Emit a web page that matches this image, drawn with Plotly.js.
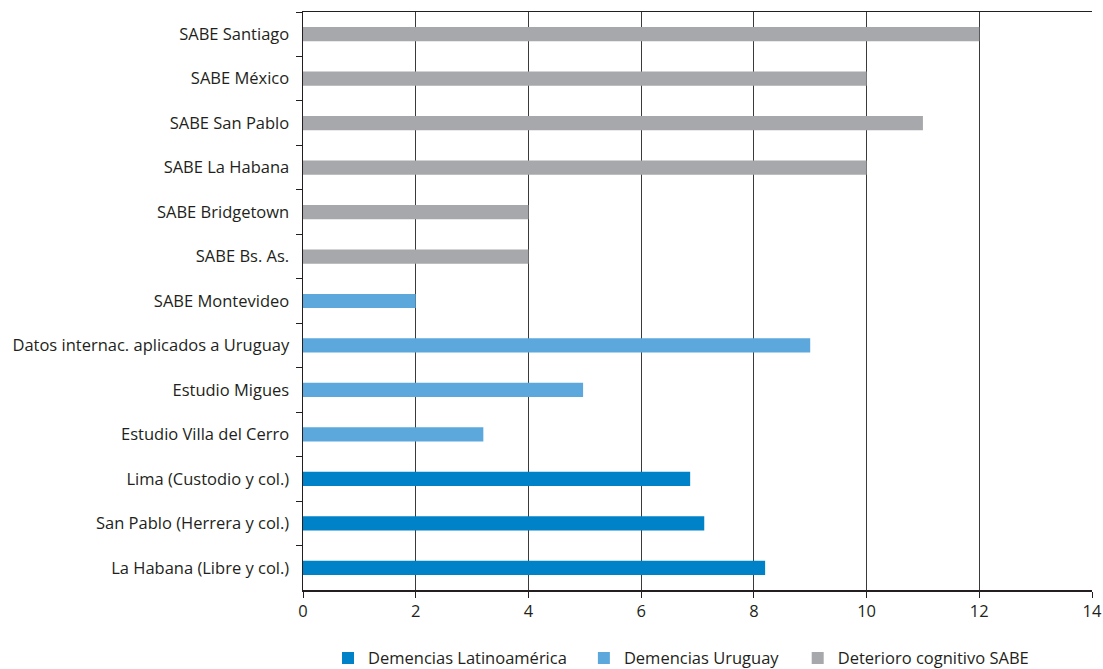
<!DOCTYPE html>
<html>
<head>
<meta charset="utf-8">
<script src="https://cdn.plot.ly/plotly-3.0.1.min.js"></script>
<style>html,body{margin:0;padding:0;background:#fff;}#chart{width:1103px;height:669px;}</style>
</head>
<body>
<div id="chart"></div>
<script>
// categories, top to bottom
const categories = [
  "SABE Santiago", "SABE México", "SABE San Pablo", "SABE La Habana",
  "SABE Bridgetown", "SABE Bs. As.", "SABE Montevideo",
  "Datos internac. aplicados a Uruguay", "Estudio Migues", "Estudio Villa del Cerro",
  "Lima (Custodio y col.)", "San Pablo (Herrera y col.)", "La Habana (Libre y col.)"
];

const latamCats = ["Lima (Custodio y col.)", "San Pablo (Herrera y col.)", "La Habana (Libre y col.)"];
const latamVals = [6.87, 7.12, 8.2];

const uyCats = ["SABE Montevideo", "Datos internac. aplicados a Uruguay", "Estudio Migues", "Estudio Villa del Cerro"];
const uyVals = [2, 9, 4.97, 3.2];

const sabeCats = ["SABE Santiago", "SABE México", "SABE San Pablo", "SABE La Habana", "SABE Bridgetown", "SABE Bs. As."];
const sabeVals = [12, 10, 11, 10, 4, 4];

const seriesNames = ["Demencias Latinoamérica", "Demencias Uruguay", "Deterioro cognitivo SABE"];
const xTicks = [0, 2, 4, 6, 8, 10, 12, 14];

const colors = ["#0082c8", "#5ca8dc", "#a7a8ab"];
const font = "Open Sans, Liberation Sans, sans-serif";
const ink = "#231f20";
const fs = 16.5;

function bar(cats, vals, i, legendId) {
  return {
    type: "bar", orientation: "h", x: vals, y: cats, name: seriesNames[i],
    width: 0.32, marker: {color: colors[i], line: {width: 0}},
    legend: legendId, hoverinfo: "x+y"
  };
}

const data = [
  bar(latamCats, latamVals, 0, "legend"),
  bar(uyCats, uyVals, 1, "legend2"),
  bar(sabeCats, sabeVals, 2, "legend3")
];

const legBase = {orientation: "h", yanchor: "middle", y: -0.118, xanchor: "left",
  font: {family: font, size: fs, color: ink}, bgcolor: "rgba(0,0,0,0)", borderwidth: 0,
  itemwidth: 30};

const layout = {
  width: 1103, height: 669,
  margin: {l: 303, r: 11, t: 12, b: 79, pad: 0, autoexpand: false},
  paper_bgcolor: "#fff", plot_bgcolor: "#fff",
  barmode: "overlay",
  font: {family: font, size: fs, color: ink},
  xaxis: {
    range: [0, 14], tickvals: xTicks, ticktext: xTicks.map(String),
    showgrid: true, gridcolor: "#3a3a3a", gridwidth: 1,
    zeroline: false, showline: true, linecolor: ink, linewidth: 1.5, mirror: true,
    ticks: "outside", ticklen: 6, tickcolor: ink, tickwidth: 1,
    tickfont: {family: font, size: fs, color: ink}, fixedrange: true, automargin: false
  },
  yaxis: {
    type: "category", categoryorder: "array", categoryarray: categories,
    range: [categories.length - 0.5, -0.5],
    tickson: "boundaries", ticks: "outside", ticklen: 6, tickcolor: ink, tickwidth: 1,
    showgrid: false, showline: true, linecolor: ink, linewidth: 1.5,
    tickfont: {family: font, size: fs, color: ink}, ticklabelstandoff: 9, fixedrange: true,
    automargin: false
  },
  showlegend: true,
  legend: Object.assign({}, legBase, {x: 0.0317}),
  legend2: Object.assign({}, legBase, {x: 0.356}),
  legend3: Object.assign({}, legBase, {x: 0.627})
};

Plotly.newPlot("chart", data, layout, {displayModeBar: false, staticPlot: true});
</script>
</body>
</html>
